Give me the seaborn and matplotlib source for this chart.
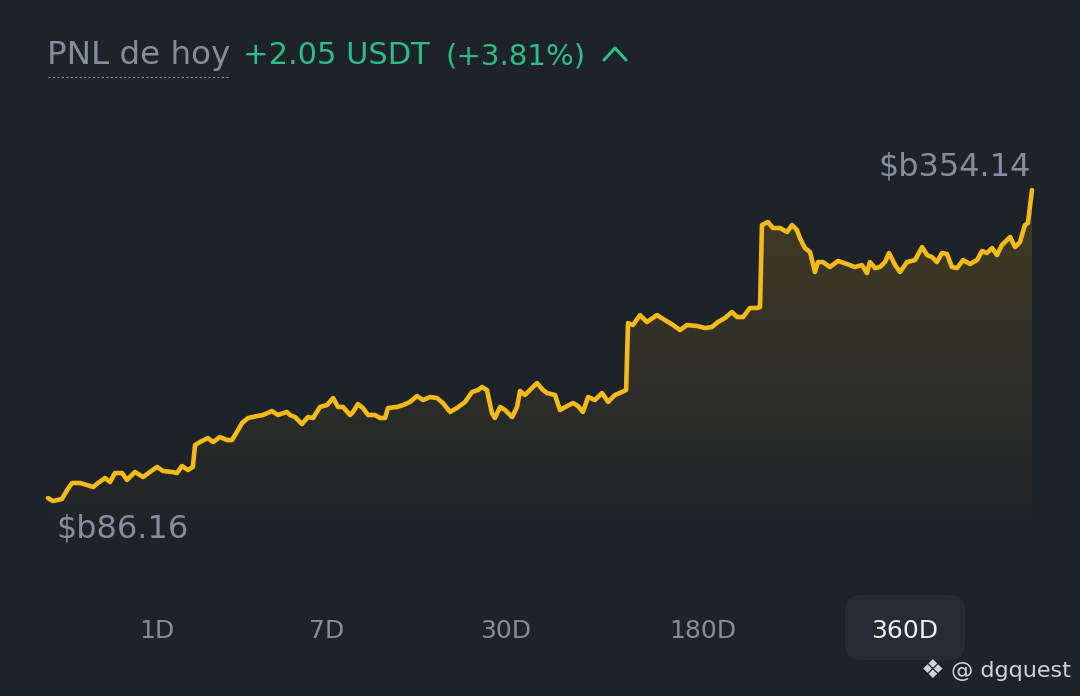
import numpy as np
import pandas as pd
import matplotlib.pyplot as plt
import seaborn as sns
from matplotlib.colors import LinearSegmentedColormap
from matplotlib.patches import FancyBboxPatch
from matplotlib.lines import Line2D
from matplotlib.transforms import IdentityTransform

# values (day of the 360D window, balance)
days = [0, 1.8, 5.1, 7.0, 8.8, 11.7, 14.3, 16.5, 18.3, 20.9, 22.7, 24.5, 27.1, 28.9,
        31.8, 34.8, 37.3, 39.9, 42.1, 45.4, 47.2, 49.0, 51.2, 53.0, 53.8, 55.6, 58.5,
        60.4, 62.9, 65.5, 67.3, 69.1, 71.0, 73.2, 76.5, 78.7, 81.9, 84.1, 87.4, 88.5,
        90.4, 92.9, 95.1, 97.0, 99.5, 102.1, 104.3, 106.1, 107.9, 110.5, 111.6, 113.4,
        115.2, 117.1, 119.6, 121.5, 123.3, 124.4, 127.7, 129.9, 132.4, 135.0, 137.2,
        139.8, 142.3, 144.5, 147.1, 149.6, 152.6, 155.1, 157.3, 158.8, 160.6, 162.4,
        163.5, 165.4, 167.2, 169.8, 171.6, 172.7, 174.5, 176.3, 178.9, 181.1, 182.6,
        185.5, 187.3, 189.9, 192.1, 193.9, 195.7, 197.6, 200.1, 202.7, 204.9, 207.4,
        210.0, 211.5, 212.2, 214.0, 216.6, 219.1, 222.8, 225.7, 228.7, 231.2, 233.8,
        237.5, 240.4, 242.9, 245.1, 247.7, 250.2, 252.1, 254.3, 256.8, 259.4, 260.5,
        261.2, 263.4, 265.2, 267.8, 270.4, 272.2, 274.0, 275.1, 276.9, 278.8, 280.6,
        281.7, 283.5, 286.1, 289.0, 292.3, 295.2, 297.8, 299.6, 300.7, 302.6, 304.4,
        306.2, 307.7, 309.9, 311.7, 314.3, 317.2, 319.8, 321.6, 323.4, 325.2, 327.1,
        328.9, 330.7, 332.6, 334.8, 337.3, 339.9, 341.7, 343.5, 345.4, 347.2, 349.0,
        352.0, 353.8, 355.6, 357.4, 358.5, 360.0]
pnl = [88.7, 86.2, 87.9, 95.6, 101.7, 101.7, 99.9, 98.2, 101.7, 106.0, 102.5, 110.3,
       110.3, 104.3, 111.2, 106.8, 111.2, 115.5, 112.0, 111.2, 110.3, 116.3, 112.9,
       115.5, 134.4, 137.0, 140.4, 137.0, 141.3, 138.7, 138.7, 145.6, 153.4, 157.7,
       159.4, 160.3, 163.7, 160.3, 162.9, 160.3, 158.5, 152.5, 158.5, 157.7, 167.2,
       168.9, 174.9, 167.2, 167.2, 160.3, 162.9, 169.7, 166.3, 160.3, 160.3, 157.7,
       157.7, 166.3, 167.2, 168.9, 171.5, 176.6, 173.2, 175.8, 174.9, 170.6, 162.9,
       166.3, 171.5, 180.1, 181.8, 184.4, 181.8, 162.0, 157.7, 167.2, 164.6, 158.5,
       167.2, 181.0, 177.5, 181.8, 187.8, 181.8, 179.2, 177.5, 164.6, 168.0, 170.6,
       168.0, 162.9, 175.8, 173.2, 179.2, 171.5, 177.5, 180.1, 181.8, 239.5, 237.8,
       246.4, 240.4, 246.4, 242.1, 237.8, 233.5, 237.8, 237.0, 235.2, 236.1, 240.4,
       243.9, 249.0, 244.7, 244.7, 252.5, 252.5, 253.3, 324.0, 326.6, 321.4, 321.4,
       318.0, 324.0, 319.7, 312.8, 304.2, 300.7, 283.5, 292.1, 292.1, 287.8, 293.0,
       290.4, 287.8, 289.5, 282.6, 292.1, 286.9, 287.8, 292.1, 299.9, 289.5, 283.5,
       292.1, 293.8, 305.0, 298.1, 296.4, 292.1, 299.9, 299.0, 287.8, 286.9, 293.8,
       290.4, 293.8, 301.6, 299.9, 304.2, 298.1, 306.8, 313.7, 305.0, 309.3, 324.0,
       325.7, 354.14]

low_label = r'\$b86.16'
high_label = r'\$b354.14'
tabs = ['1D', '7D', '30D', '180D', '360D']
active_tab = '360D'

BG = '#1E2329'
GREY = '#848E9C'
GREEN = '#2EBD85'
YELLOW = '#F3BA1A'

sns.set_style('dark')
plt.rcParams['font.family'] = ['DejaVu Sans']

fig = plt.figure(figsize=(10.8, 6.96), dpi=100)
fig.patch.set_facecolor(BG)


def fx(x):
    return x / 1080


def fy(y):
    return 1 - y / 696


# chart area
ax = fig.add_axes([fx(48), fy(520), fx(1032) - fx(48), fy(180) - fy(520)])
ax.set_facecolor('none')
ymin, ymax = 69.8, 362.8

df = pd.DataFrame({'day': days, 'pnl': pnl})

# gradient under the curve
fill = ax.fill_between(df['day'], df['pnl'], ymin, color='none', linewidth=0)
grad = np.linspace(0, 1, 256).reshape(-1, 1)
cmap = LinearSegmentedColormap.from_list('g', ['#20252A', '#433C26'])
im = ax.imshow(grad, extent=[0, 360, ymin, max(pnl)], origin='lower',
               aspect='auto', cmap=cmap, zorder=1)
im.set_clip_path(fill.get_paths()[0], transform=ax.transData)

sns.lineplot(data=df, x='day', y='pnl', ax=ax, color=YELLOW, linewidth=3.3, zorder=3)
for ln in ax.lines:
    ln.set_clip_on(False)
    ln.set_solid_joinstyle('round')

ax.set_xlim(0, 360)
ax.set_ylim(ymin, ymax)
ax.axis('off')

# header
fig.text(fx(47), fy(64), 'PNL de hoy', color=GREY, fontsize=23.4, va='baseline')
fig.text(fx(243), fy(64), '+2.05 USDT', color=GREEN, fontsize=22, va='baseline')
fig.text(fx(446), fy(64), '(+3.81%)', color=GREEN, fontsize=21, va='baseline')
fig.add_artist(Line2D([fx(48), fx(230)], [fy(77), fy(77)], color=GREY, lw=0.8,
                      linestyle=(0, (2, 2))))
fig.add_artist(Line2D([fx(604), fx(615), fx(626)], [fy(60), fy(48), fy(60)],
                      color=GREEN, lw=2.2, solid_capstyle='round',
                      solid_joinstyle='round'))

# min / max labels
fig.text(fx(56), fy(538), low_label, color=GREY, fontsize=23, va='baseline')
fig.text(fx(1031), fy(176), high_label, color=GREY, fontsize=23, va='baseline', ha='right')

# range tabs
tab_x = [157, 327, 506, 703, 905]
fig.add_artist(FancyBboxPatch((845, 696 - 660), 120, 65,
                              boxstyle='round,pad=0,rounding_size=16',
                              transform=IdentityTransform(), facecolor='#272C34',
                              edgecolor='none'))
for t, x in zip(tabs, tab_x):
    c = '#EAECEF' if t == active_tab else GREY
    fig.text(fx(x), fy(638), t, color=c, fontsize=18, ha='center', va='baseline')

# watermark
fig.text(fx(933), fy(678), '\u2756', color='#D0D3D8', fontsize=19, ha='center',
         va='baseline')
fig.text(fx(951), fy(677), '@ dgquest', color='#D0D3D8', fontsize=16, va='baseline')

fig.savefig('out.png', dpi=100, facecolor=BG)
